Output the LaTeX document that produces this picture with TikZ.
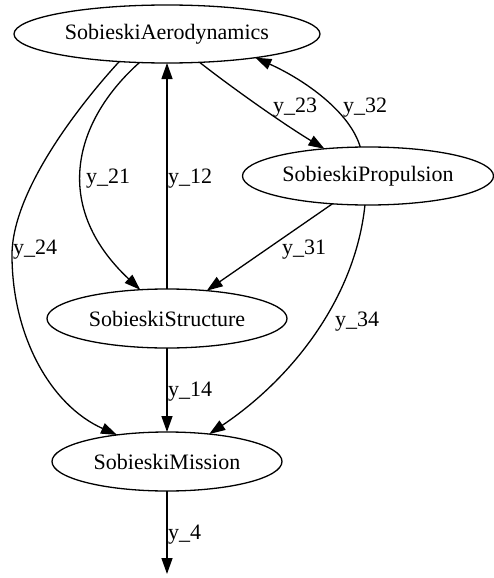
\documentclass[tikz,border=0pt]{standalone}
\usepackage{fontspec}
\setmainfont{Liberation Serif}
\usetikzlibrary{arrows.meta,shapes.geometric}
\begin{document}
\begin{tikzpicture}[x=1pt,y=-1pt,
  nd/.style={ellipse,draw,line width=1.3pt,inner sep=0pt,outer sep=0pt,font=\fontsize{22}{26}\selectfont},
  conn/.style={line width=1.3pt,-{Triangle[length=16pt,width=11pt]}},
  lbl/.style={anchor=base west,inner sep=0pt,font=\fontsize{22}{26}\selectfont}]
\useasboundingbox (0,0) rectangle (494,578);
\node[nd,minimum width=306pt,minimum height=58pt] (aero) at (167,34) {SobieskiAerodynamics};
\node[nd,minimum width=251pt,minimum height=58pt] (prop) at (368,176) {SobieskiPropulsion};
\node[nd,minimum width=240pt,minimum height=59pt] (struct) at (167,318.5) {SobieskiStructure};
\node[nd,minimum width=230pt,minimum height=59pt] (miss) at (167,461.5) {SobieskiMission};
\coordinate (out) at (167,574);
\draw[conn] (struct.north) -- (aero.south);
\draw[conn] (aero.226) .. controls (75,120) and (50,205) .. (struct.133);
\draw[conn] (aero.210) .. controls (82,102) and (12,190) .. (12,255) .. controls (12,335) and (50,405) .. (miss.152);
\draw[conn] (aero.319) .. controls (235,90) and (285,125) .. (prop.148);
\draw[conn] (prop.105) .. controls (350,112) and (305,80) .. (aero.345);
\draw[conn] (prop.218) -- (struct.35);
\draw[conn] (prop.264) .. controls (355,300) and (290,380) .. (miss.33);
\draw[conn] (struct.south) -- (miss.north);
\draw[conn] (miss.south) -- (out);
\node[lbl] (l21) at (86,183) {y\_21};
\node[lbl] (l12) at (168,183) {y\_12};
\node[lbl] (l23) at (273,112) {y\_23};
\node[lbl] (l32) at (343,112) {y\_32};
\node[lbl] (l24) at (13,254) {y\_24};
\node[lbl] (l31) at (282,254) {y\_31};
\node[lbl] (l34) at (335,326) {y\_34};
\node[lbl] (l14) at (168,396) {y\_14};
\node[lbl] (l4) at (168,539) {y\_4};
\end{tikzpicture}
\end{document}
